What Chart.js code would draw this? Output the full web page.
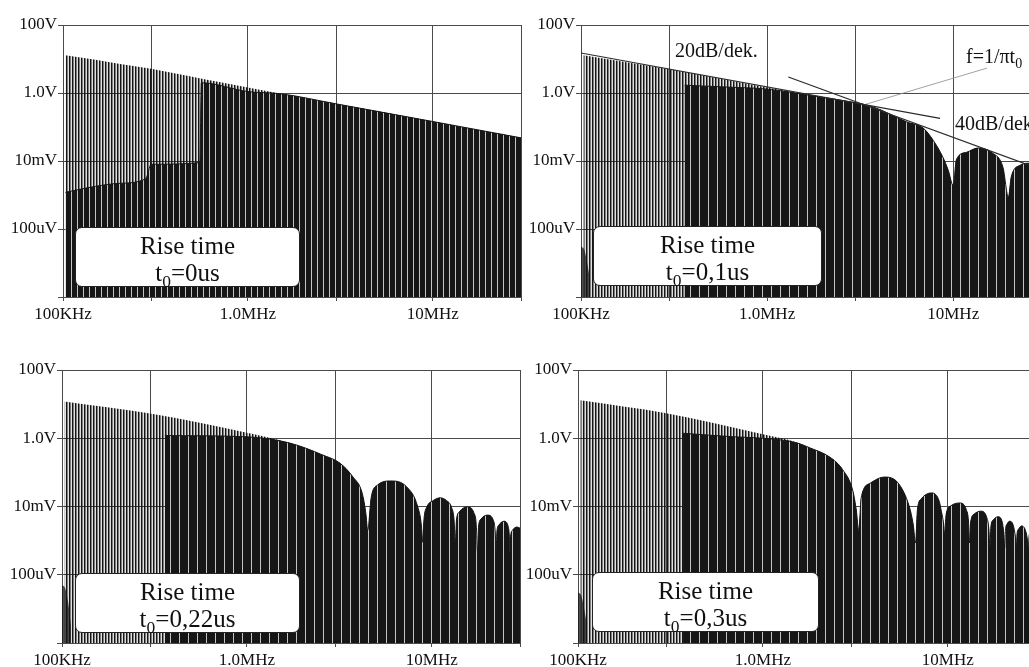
<!DOCTYPE html>
<html>
<head>
<meta charset="utf-8">
<script src="https://cdn.jsdelivr.net/npm/chart.js@4.4.1/dist/chart.umd.min.js"></script>
<style>
  html, body { margin: 0; padding: 0; background: #fff; }
  body { width: 1029px; height: 667px; overflow: hidden; position: relative; font-family: "Liberation Serif", "Times New Roman", serif; }
  .panel { position: absolute; width: 540px; height: 340px; }
  .box { position: absolute; background: #fff; border: 1.5px solid #222; border-radius: 7px; box-sizing: border-box;
         text-align: center; font-size: 25px; line-height: 27px; padding-top: 4px; color: #111; }
  .box sub, .note sub { font-size: 70%; line-height: 0; vertical-align: -0.35em; }
  .note { position: absolute; font-size: 20px; color: #111; white-space: nowrap; }
</style>
</head>
<body>
<div class="panel" style="left:0;top:0"><canvas id="c1"></canvas></div>
<div class="panel" style="left:520px;top:0"><canvas id="c2"></canvas></div>
<div class="panel" style="left:0;top:345px"><canvas id="c3"></canvas></div>
<div class="panel" style="left:520px;top:345px"><canvas id="c4"></canvas></div>

<div class="box" style="left:75px;top:227px;width:225px;height:60px">Rise time<br>t<sub>0</sub>=0us</div>
<div class="box" style="left:593px;top:226px;width:229px;height:60px">Rise time<br>t<sub>0</sub>=0,1us</div>
<div class="box" style="left:75px;top:573px;width:225px;height:60px">Rise time<br>t<sub>0</sub>=0,22us</div>
<div class="box" style="left:592px;top:572px;width:227px;height:60px">Rise time<br>t<sub>0</sub>=0,3us</div>

<div class="note" style="left:675px;top:39px">20dB/dek.</div>
<div class="note" style="left:966px;top:45px">f=1/πt<sub>0</sub></div>
<div class="note" style="left:955px;top:112px">40dB/dek.</div>

<script>
// axes
const xTickValues = [1e5, 3e5, 1e6, 3e6, 1e7, 3e7];
const xTickLabels = ["100KHz", "", "1.0MHz", "", "10MHz", ""];
const yTickValues = [1e-6, 1e-4, 1e-2, 1, 100];
const yTickLabels = ["", "100uV", "10mV", "1.0V", "100V"];

// t0 = 0us : peak envelope of the harmonic lines, and top of the solid black part
const f1Peaks = [1.03e5, 1.5e5, 2e5, 3e5, 5e5, 7e5, 1e6, 2e6, 3e6, 5e6, 1e7, 2e7, 3e7];
const v1Peaks = [13, 9.5, 7.3, 5.2, 3.0, 2.1, 1.45, 0.72, 0.48, 0.29, 0.145, 0.072, 0.048];
const f1Dense = [1.03e5, 1.5e5, 2e5, 2.8e5, 3e5, 5.5e5, 5.6e5, 1e6, 1.5e6, 3e6, 1e7, 3e7];
const v1Dense = [1.2e-3, 1.8e-3, 2.2e-3, 3e-3, 8e-3, 9e-3, 2.0, 1.1, 0.95, 0.48, 0.145, 0.048];

// t0 = 0,1us
const f2Head = [1.03e5, 3e5, 1e6, 2e6];
const v2Head = [13, 5.0, 1.45, 0.74];
const f2DenseHead = [3.6e5, 6e5, 1e6, 2e6];
const v2DenseHead = [1.7, 1.5, 1.3, 0.74];
const f2Lobes = [2.47e6, 3.71e6, 5.64e6, 6.9e6, 7.8e6, 8.8e6, 9.4e6, 1e7, 1.04e7, 1.18e7, 1.35e7, 1.63e7, 1.85e7, 1.98e7, 2.05e7, 2.29e7, 2.56e7, 2.8e7, 2.95e7, 3e7];
const v2Lobes = [0.62, 0.39, 0.14, 0.093, 0.041, 0.013, 0.0054, 0.0019, 0.011, 0.018, 0.024, 0.017, 0.0066, 0.00087, 0.0034, 0.0075, 0.0086, 0.006, 0.002, 0.001];
const f2Foot = [1.0e5, 1.04e5, 1.08e5, 1.12e5];
const v2Foot = [3e-5, 2.5e-5, 1e-5, 3e-6];
// construction lines of the t0 = 0,1us panel
const slope20F = [1e5, 8.5e6];
const slope20V = [15, 0.18];
const slope40F = [1.3e6, 3e7];
const slope40V = [2.96, 0.0055];
const cornerF = [3.32e6, 1.52e7];
const cornerV = [0.45, 5.4];

// t0 = 0,22us
const f3Head = [1.03e5, 3e5, 1e6, 1.71e6];
const v3Head = [12, 5.3, 1.45, 0.72];
const f3DenseHead = [3.6e5, 1e6, 1.71e6];
const v3DenseHead = [1.2, 1.1, 0.72];
const f3Lobes = [2.58e6, 3.17e6, 3.75e6, 4.2e6, 4.4e6, 4.5e6,
  4.7e6, 5.1e6, 6.0e6, 7.3e6, 8.4e6, 8.8e6, 8.9e6,
  9.1e6, 9.4e6, 1.02e7, 1.11e7, 1.2e7, 1.28e7, 1.32e7, 1.34e7,
  1.36e7, 1.41e7, 1.56e7, 1.69e7, 1.74e7, 1.77e7,
  1.79e7, 1.84e7, 2.0e7, 2.15e7, 2.2e7, 2.23e7,
  2.25e7, 2.3e7, 2.46e7, 2.59e7, 2.63e7, 2.65e7,
  2.67e7, 2.73e7, 2.9e7, 3e7];
const v3Lobes = [0.32, 0.19, 0.073, 0.025, 0.0063, 0.002,
  0.018, 0.043, 0.056, 0.038, 0.0097, 0.0025, 0.0009,
  0.005, 0.0097, 0.015, 0.018, 0.015, 0.0093, 0.004, 0.00085,
  0.004, 0.007, 0.0097, 0.0065, 0.003, 0.00045,
  0.0025, 0.0042, 0.0056, 0.004, 0.002, 0.00045,
  0.0018, 0.0028, 0.0037, 0.0026, 0.0013, 0.00045,
  0.0013, 0.002, 0.0025, 0.0023];
const f3Foot = [1.0e5, 1.04e5, 1.08e5, 1.12e5];
const v3Foot = [5e-5, 4e-5, 1.5e-5, 3e-6];

// t0 = 0,3us
const f4Head = [1.03e5, 3e5, 1e6, 1.5e6, 1.8e6];
const v4Head = [13, 5.4, 1.3, 0.78, 0.52];
const f4DenseHead = [3.7e5, 7e5, 1e6, 1.5e6, 1.8e6];
const v4DenseHead = [1.4, 1.1, 1.0, 0.75, 0.52];
const f4Lobes = [2.3e6, 2.7e6, 3.06e6, 3.2e6, 3.3e6,
  3.4e6, 3.8e6, 4.55e6, 5.4e6, 6.2e6, 6.5e6, 6.7e6,
  6.85e6, 7.2e6, 8.2e6, 9.0e6, 9.2e6, 9.5e6, 9.6e6,
  9.8e6, 1.04e7, 1.16e7, 1.26e7, 1.295e7, 1.31e7,
  1.33e7, 1.39e7, 1.51e7, 1.62e7, 1.67e7, 1.69e7,
  1.71e7, 1.76e7, 1.87e7, 1.97e7, 2.01e7, 2.03e7,
  2.05e7, 2.09e7, 2.16e7, 2.26e7, 2.32e7, 2.35e7,
  2.37e7, 2.42e7, 2.5e7, 2.63e7, 2.7e7, 2.73e7,
  2.75e7, 2.85e7, 3e7];
const v4Lobes = [0.28, 0.12, 0.03, 0.0079, 0.002,
  0.018, 0.048, 0.073, 0.048, 0.0097, 0.003, 0.00085,
  0.008, 0.017, 0.025, 0.014, 0.0079, 0.003, 0.0015,
  0.006, 0.0105, 0.0127, 0.008, 0.0035, 0.00085,
  0.0035, 0.006, 0.0073, 0.005, 0.002, 0.0006,
  0.0025, 0.004, 0.005, 0.0035, 0.0015, 0.0006,
  0.002, 0.003, 0.0037, 0.0028, 0.0013, 0.0006,
  0.0016, 0.0022, 0.0027, 0.002, 0.001, 0.0005,
  0.0013, 0.0022, 0.0015];
const f4Foot = [1.0e5, 1.04e5, 1.08e5, 1.12e5];
const v4Foot = [3e-5, 2.5e-5, 1e-5, 3e-6];

Chart.defaults.font.family = '"Liberation Serif", "Times New Roman", serif';
Chart.defaults.font.size = 17;
Chart.defaults.color = "#111";

function pts(fs, vs) {
    return fs.map((f, i) => ({ x: f, y: vs[i] }));
}

// vertical stripe fill, one colour per pixel column
function stripes(ctx, cols) {
    const c = document.createElement("canvas");
    c.width = cols.length;
    c.height = 1;
    const g = c.getContext("2d");
    cols.forEach((col, i) => {
        g.fillStyle = col;
        g.fillRect(i, 0, 1, 1);
    });
    return ctx.createPattern(c, "repeat");
}

function blackStripes(ctx, period) {
    let cols = [];
    for (let i = 0; i < period - 1; i++) cols.push("#161616");
    cols.push("#c4c4c4");
    return stripes(ctx, cols);
}

function spectrum(id, pad, yWidth, period, layers, extra) {
    const canvas = document.getElementById(id);
    const ctx = canvas.getContext("2d");
    const grey = stripes(ctx, ["#151515", "rgba(0,0,0,0.5)", "rgba(0,0,0,0.12)"]);
    const black = blackStripes(ctx, period);

    let datasets = (extra || []).map(e => ({
        data: e.data,
        borderColor: e.color,
        borderWidth: e.width,
        pointRadius: 0,
        fill: false,
        tension: 0
    }));
    if (layers.foot) {
        datasets.push({
            data: layers.foot, borderWidth: 0, pointRadius: 0,
            backgroundColor: "rgba(20,20,20,0.75)", fill: "start", cubicInterpolationMode: "monotone"
        });
    }
    datasets.push({
        data: layers.dense, borderColor: "#151515", borderWidth: 1, pointRadius: 0,
        backgroundColor: black, fill: "start", cubicInterpolationMode: "monotone"
    });
    datasets.push({
        data: layers.peaks, borderWidth: 0, pointRadius: 0,
        backgroundColor: grey, fill: "start", cubicInterpolationMode: "monotone"
    });

    new Chart(canvas, {
        type: "line",
        data: { datasets: datasets },
        options: {
            responsive: true,
            maintainAspectRatio: false,
            animation: false,
            layout: { padding: pad },
            plugins: { legend: { display: false }, tooltip: { enabled: false } },
            scales: {
                x: {
                    type: "logarithmic",
                    min: 1e5,
                    max: 3e7,
                    afterBuildTicks: s => { s.ticks = xTickValues.map(v => ({ value: v })); },
                    afterFit: s => { s.height = 30; },
                    ticks: {
                        autoSkip: false, maxRotation: 0, padding: 3,
                        callback: (v, i) => xTickLabels[i]
                    },
                    grid: { color: "#4a4a4a", lineWidth: 1, tickLength: 4 },
                    border: { color: "#4a4a4a" }
                },
                y: {
                    type: "logarithmic",
                    min: 1e-6,
                    max: 100,
                    afterBuildTicks: s => { s.ticks = yTickValues.map(v => ({ value: v })); },
                    afterFit: s => { s.width = yWidth; },
                    ticks: {
                        autoSkip: false, padding: 1,
                        callback: (v, i) => yTickLabels[i]
                    },
                    grid: { color: "#4a4a4a", lineWidth: 1, tickLength: 5 },
                    border: { color: "#4a4a4a" }
                }
            }
        }
    });
}

spectrum("c1", { left: 0, top: 25, right: 19, bottom: 13 }, 63, 6, {
    peaks: pts(f1Peaks, v1Peaks),
    dense: pts(f1Dense, v1Dense)
});

spectrum("c2", { left: 0, top: 25, right: 18, bottom: 13 }, 61, 9, {
    peaks: pts(f2Head.concat(f2Lobes), v2Head.concat(v2Lobes)),
    dense: pts(f2DenseHead.concat(f2Lobes), v2DenseHead.concat(v2Lobes)),
    foot: pts(f2Foot, v2Foot)
}, [
    { data: pts(slope20F, slope20V), color: "#2a2a2a", width: 1.2 },
    { data: pts(slope40F, slope40V), color: "#2a2a2a", width: 1.2 },
    { data: pts(cornerF, cornerV), color: "#8a8a8a", width: 0.8 }
]);

spectrum("c3", { left: 0, top: 25, right: 20, bottom: 12 }, 62, 9, {
    peaks: pts(f3Head.concat(f3Lobes), v3Head.concat(v3Lobes)),
    dense: pts(f3DenseHead.concat(f3Lobes), v3DenseHead.concat(v3Lobes)),
    foot: pts(f3Foot, v3Foot)
});

spectrum("c4", { left: 0, top: 25, right: 24, bottom: 12 }, 58, 9, {
    peaks: pts(f4Head.concat(f4Lobes), v4Head.concat(v4Lobes)),
    dense: pts(f4DenseHead.concat(f4Lobes), v4DenseHead.concat(v4Lobes)),
    foot: pts(f4Foot, v4Foot)
});
</script>
</body>
</html>
